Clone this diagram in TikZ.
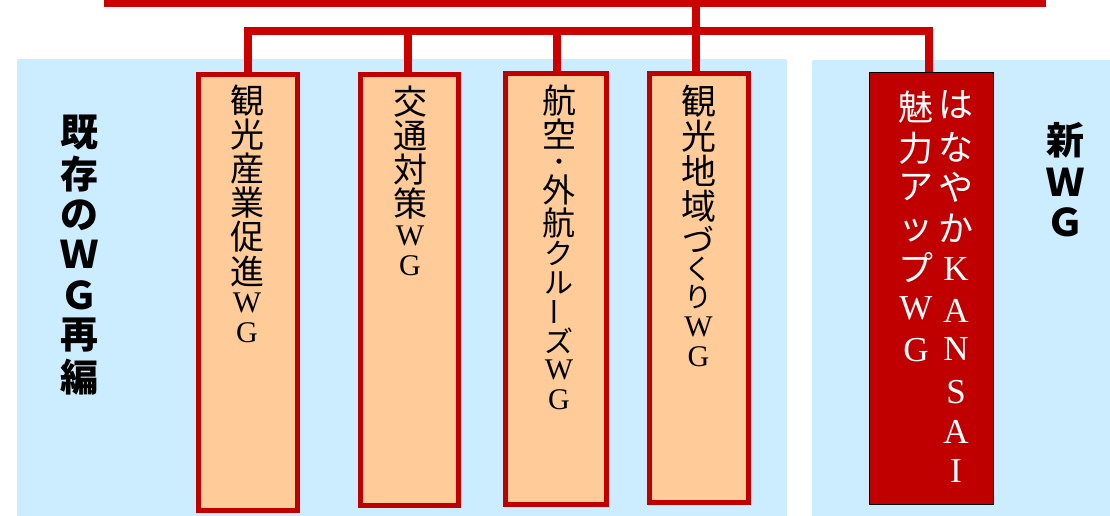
\documentclass[tikz,border=0pt]{standalone}
\usepackage{fontspec}
\setmainfont{Liberation Serif}
\newfontfamily\jp{Noto Sans CJK JP}
\newcommand\rl[1]{{\rmfamily #1}}
\definecolor{panelblue}{RGB}{204,236,255}
\definecolor{peach}{RGB}{255,204,153}
\definecolor{wgred}{RGB}{192,0,0}
\definecolor{barred}{RGB}{204,0,0}
\tikzset{
  bar/.style={draw=barred, line width=8pt},
  panel/.style={fill=panelblue, rounded corners=2pt},
  wgbox/.style={draw=wgred, fill=peach, line width=5pt, inner sep=0pt},
  newbox/.style={draw=black, fill=wgred, line width=1pt, inner sep=0pt},
  kc/.style={inner sep=0pt, font=\jp\fontsize{#1}{#1}\selectfont},
  kc/.default=35,
  wc/.style={kc, text=white},
  lab/.style={inner sep=0pt, font=\jp\bfseries\fontsize{38}{44}\selectfont}
}
\begin{document}
\begin{tikzpicture}[x=1pt,y=-1pt]
\useasboundingbox (0,0) rectangle (1110,515);
% panels
\path[panel] (17,59) rectangle (787,530);
\path[panel] (812,60) rectangle (1120,530);
% boxes
\node[wgbox, minimum width=99pt, minimum height=436pt] (b1) at (248,292.5) {};
\node[wgbox, minimum width=98pt, minimum height=431pt] (b2) at (409.5,290) {};
\node[wgbox, minimum width=101pt, minimum height=431pt] (b3) at (556,289) {};
\node[wgbox, minimum width=99pt, minimum height=429pt] (b4) at (699,288) {};
\node[newbox, minimum width=124pt, minimum height=432pt] (b5) at (931.5,288.5) {};
% connectors
\coordinate (tl) at (104,3);
\coordinate (tr) at (1046,3);
\coordinate (hub) at (695.5,3);
\coordinate (s1) at (248,31);
\coordinate (s2) at (408,31);
\coordinate (s3) at (557,31);
\coordinate (s5) at (928.5,31);
\draw[bar] (tl) -- (tr);
\draw[bar] (s1 |- b1.north) -- (s1) -- (s5) -- (s5 |- b5.north);
\draw[bar] (hub) -- (hub |- b4.north);
\draw[bar] (s2) -- (s2 |- b2.north);
\draw[bar] (s3) -- (s3 |- b3.north);
% box texts
\foreach \c/\y/\s [count=\i] in {観/101/34,光/135/34,産/169/34,業/203/34,促/237/34,進/271/34,\rl{W}/303/30,\rl{G}/333/30}
  \node[kc=\s] (t1c\i) at (247,\y) {\c};
\foreach \c/\y/\s [count=\i] in {交/102/34,通/136/34,対/170/34,策/204/34,\rl{W}/236/30,\rl{G}/266/30}
  \node[kc=\s] (t2c\i) at (410,\y) {\c};
\foreach \c/\y/\s [count=\i] in {航/100.5/34,空/134.5/34,\textbf{・}/163.5/18,外/189.5/33,航/222.5/33,ク/253.5/29,ル/282.5/29}
  \node[kc=\s] (t3c\i) at (559,\y) {\c};
\node[kc=29, rotate=90] (t3bar) at (559,311.5) {ー};
\foreach \c/\y/\s [count=\i] in {ズ/340.5/29,\rl{W}/370/30,\rl{G}/400/30}
  \node[kc=\s] (t3d\i) at (559,\y) {\c};
\foreach \c/\y/\s [count=\i] in {観/101/35,光/136/35,地/171/35,域/206/35,づ/239.5/32,く/269.5/28,り/297.5/28,\rl{W}/326.5/30,\rl{G}/356.5/30}
  \node[kc=\s] (t4c\i) at (698.5,\y) {\c};
\foreach \c/\y [count=\i] in {は/105,な/147,や/187,か/228,\rl{K}/269,\rl{A}/311,\rl{N}/349,\rl{S}/392,\rl{A}/432,\rl{I}/471}
  \node[wc] (t5r\i) at (956,\y) {\c};
\foreach \c/\y [count=\i] in {魅/107,力/148,ア/187,ッ/231,プ/268,\rl{W}/308,\rl{G}/350}
  \node[wc] (t5l\i) at (916,\y) {\c};
% side labels
\foreach \c/\y [count=\i] in {既/133,存/174,の/215,Ｗ/254,Ｇ/295,再/335,編/377}
  \node[lab] (ll\i) at (79,\y) {\c};
\foreach \c/\y [count=\i] in {新/140,Ｗ/182,Ｇ/222}
  \node[lab] (rl\i) at (1065,\y) {\c};
\end{tikzpicture}
\end{document}
